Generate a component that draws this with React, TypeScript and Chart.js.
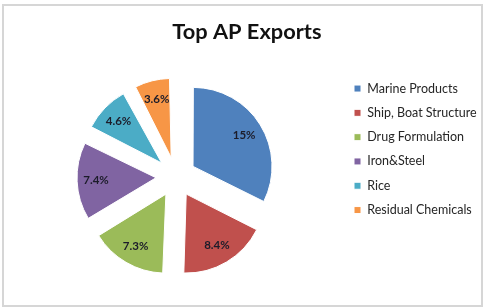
import React, { useEffect, useRef } from "react";
import { Chart, registerables } from "chart.js";

Chart.register(...registerables);

const categories = [
  "Marine Products",
  "Ship, Boat Structure",
  "Drug Formulation",
  "Iron&Steel",
  "Rice",
  "Residual Chemicals",
];
const shares = [15, 8.4, 7.3, 7.4, 4.6, 3.6];
const colors = ["#4F81BD", "#C0504D", "#9BBB59", "#8064A2", "#4BACC6", "#F79646"];

const PIE_RADIUS = 79;
const EXPLODE = 80; // Chart.js moves a slice by offset / 4

const radiusFix = {
  id: "radiusFix",
  afterDatasetsUpdate(chart: any) {
    const meta = chart.getDatasetMeta(0);
    meta.data.forEach((arc: any) => {
      const c = arc.endAngle - arc.startAngle;
      const off = (arc.options.offset || 0) / 4;
      arc.outerRadius = PIE_RADIUS - off * (1 - Math.sin(Math.min(Math.PI, c)));
    });
  },
};

const sliceLabels = {
  id: "sliceLabels",
  afterDatasetsDraw(chart: any) {
    const ctx = chart.ctx;
    const meta = chart.getDatasetMeta(0);
    ctx.save();
    ctx.font = "bold 11.5px Lato";
    ctx.fillStyle = "#1c1c2a";
    ctx.textAlign = "center";
    ctx.textBaseline = "middle";
    meta.data.forEach((arc: any, i: number) => {
      const mid = (arc.startAngle + arc.endAngle) / 2;
      const off = (arc.options.offset || 0) / 4;
      const d = off + PIE_RADIUS * 0.76;
      ctx.fillText(String(shares[i]) + "%", arc.x + Math.cos(mid) * d, arc.y + Math.sin(mid) * d);
    });
    ctx.restore();
  },
};

export default function App() {
  const ref = useRef<HTMLCanvasElement>(null);
  useEffect(() => {
    if (!ref.current) return;
    const chart = new Chart(ref.current, {
      type: "pie",
      data: {
        labels: categories,
        datasets: [
          {
            data: shares,
            backgroundColor: colors,
            borderColor: "#ffffff",
            borderWidth: 1,
            offset: EXPLODE,
          },
        ],
      },
      options: {
        responsive: false,
        animation: false,
        radius: PIE_RADIUS,
        layout: { padding: { left: 9.8, right: 0, top: 0, bottom: 8.4 } },
        plugins: {
          title: {
            display: true,
            text: "Top AP Exports",
            color: "#111111",
            font: { family: "Lato", size: 21.8, weight: "bold" },
            padding: { top: 19, bottom: 10 },
          },
          legend: {
            position: "right",
            maxWidth: 141.8,
            labels: {
              boxWidth: 7,
              boxHeight: 7,
              padding: 11.8,
              color: "#262626",
              font: { family: "Lato", size: 12.5 },
            },
          },
          tooltip: { enabled: false },
        },
      } as any,
      plugins: [radiusFix, sliceLabels],
    });
    return () => chart.destroy();
  }, []);
  return (
    <div style={{ position: "fixed", left: 0, top: 0, width: 484, height: 307, background: "#fff" }}>
      <canvas ref={ref} width={484} height={307} style={{ position: "absolute", left: 0, top: 0 }} />
      <div
        style={{
          position: "absolute",
          left: 2,
          top: 4,
          width: 477,
          height: 299,
          border: "2px solid #d6d6d6",
          pointerEvents: "none",
        }}
      />
    </div>
  );
}
